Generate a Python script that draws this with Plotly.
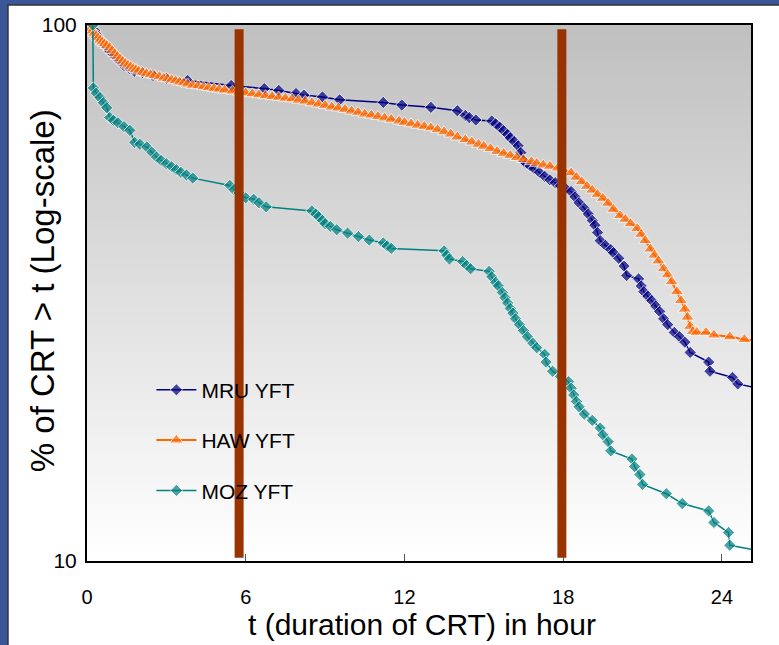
import plotly.graph_objects as go

# ---------------- data ----------------
series_names = ["MRU YFT", "HAW YFT", "MOZ YFT"]

mru_t = [0.2, 0.3, 0.4, 0.55, 0.7, 0.85, 1.0, 1.2, 1.4, 1.6, 1.8, 2.1, 2.5, 3.0, 3.8,
         5.45, 6.7, 7.25, 7.9, 8.2, 8.9, 9.55, 11.2, 11.9, 13.0, 14.0, 14.3, 14.45, 14.7,
         15.3, 15.45, 15.6, 15.75, 15.9, 16.0, 16.15, 16.3, 16.4, 16.5, 16.6, 16.75, 16.9,
         17.1, 17.3, 17.5, 17.7, 17.9, 18.1, 18.3, 18.45, 18.6, 18.8, 18.95, 19.1, 19.2,
         19.3, 19.4, 19.6, 19.8, 19.9, 20.1, 20.3, 20.4, 20.85, 20.95, 21.05, 21.2, 21.35,
         21.5, 21.65, 21.8, 21.95, 22.2, 22.4, 22.6, 22.8, 23.5, 23.55, 24.4, 24.6, 25.4]
mru_v = [100, 97.5, 95.5, 93.5, 91.5, 89.5, 88, 86, 84, 83, 82, 81.5, 80.5, 79.5, 78.8,
         77.1, 76.1, 75.5, 74.5, 74.0, 73.4, 72.5, 71.7, 70.9, 70.2, 69.2, 67.8, 67.2, 66.5,
         66.2, 65.4, 64.5, 63.5, 62.5, 61.6, 60.6, 59.5, 57.8, 55.9, 55.2, 54.6, 54.0,
         53.1, 52.2, 51.4, 50.8, 50.1, 49.5, 48.9, 47.8, 46.6, 45.5, 44.4, 43.2, 42.3,
         41.0, 39.6, 38.8, 38.1, 37.6, 36.7, 35.5, 34.1, 33.6, 32.6, 31.8, 31.2, 30.6,
         29.9, 29.2, 28.3, 27.6, 26.7, 26.2, 25.6, 24.5, 23.5, 22.6, 22.0, 21.4, 21.0]

haw_t = [0.10, 0.15, 0.20, 0.28, 0.35, 0.42, 0.50, 0.58, 0.66, 0.75, 0.86, 0.95, 1.05, 1.15,
         1.25, 1.35, 1.45, 1.55, 1.65, 1.75, 1.85, 1.95, 2.10, 2.25, 2.40, 2.55, 2.74, 2.90,
         3.05, 3.20, 3.35, 3.50, 3.65, 3.80, 4.00, 4.20, 4.40, 4.60, 4.80, 5.00, 5.20, 5.50,
         5.75, 6.00, 6.25, 6.50, 6.75, 7.00, 7.25, 7.50, 7.75, 8.00, 8.25, 8.50, 8.75, 9.00,
         9.25, 9.50, 9.75, 10.00, 10.25, 10.50, 10.75, 11.00, 11.25, 11.50, 11.80, 12.00,
         12.25, 12.50, 12.75, 13.00, 13.25, 13.50, 13.75, 14.00, 14.30, 14.55, 14.80, 15.00,
         15.25, 15.50, 15.75, 16.00, 16.25, 16.50, 16.80, 17.00, 17.25, 17.50, 17.80, 18.00,
         18.30, 18.50, 18.70, 18.90, 19.10, 19.30, 19.50, 19.70, 19.90, 20.15, 20.35, 20.55,
         20.80, 20.95, 21.10, 21.30, 21.45, 21.60, 21.80, 21.95, 22.10, 22.30, 22.45, 22.60,
         22.70, 22.80, 22.90, 23.05, 23.40, 23.70, 24.30, 24.85, 25.40]
haw_v = [100, 98.5, 97.5, 96.5, 95.5, 94.6, 93.8, 93.0, 92.3, 91.6, 90.8, 89.6, 88.5, 87.4,
         86.5, 85.6, 84.8, 84.2, 83.6, 83.0, 82.6, 82.1, 81.6, 81.2, 80.8, 80.5, 80.1, 79.6,
         79.4, 79.0, 78.7, 78.3, 78.0, 77.6, 77.2, 77.0, 76.7, 76.4, 76.1, 75.9, 75.6, 75.3,
         75.0, 74.7, 74.4, 74.1, 73.8, 73.5, 73.3, 73.0, 72.8, 72.4, 72.1, 71.6, 71.2, 70.8,
         70.3, 70.0, 69.6, 69.1, 68.7, 68.2, 67.9, 67.5, 67.1, 66.7, 66.2, 65.8,
         65.4, 65.0, 64.7, 64.3, 63.8, 63.2, 62.6, 61.8, 61.1, 60.5, 59.9, 59.4,
         58.8, 58.1, 57.6, 57.1, 56.6, 56.1, 55.6, 55.2, 54.8, 54.5, 54.1, 53.7,
         53.0, 52.0, 51.0, 50.0, 49.2, 48.3, 47.5, 46.5, 45.3, 44.1, 43.4, 42.6,
         41.7, 40.7, 39.6, 38.2, 37.2, 36.3, 35.1, 34.2, 33.2, 31.8, 30.6, 29.5,
         28.5, 27.4, 26.8, 26.7, 26.7, 26.4, 26.2, 25.9, 25.7]

moz_t = [0.22, 0.24, 0.35, 0.49, 0.62, 0.75, 0.86, 1.0, 1.17, 1.4, 1.62, 1.8, 2.0, 2.26,
         2.45, 2.63, 2.8, 3.0, 3.2, 3.38, 3.55, 3.76, 4.0, 5.4, 5.56, 5.75, 6.0, 6.3, 6.5,
         6.77, 8.5, 8.65, 8.76, 8.9, 9.0, 9.2, 9.44, 9.85, 10.26, 10.67, 11.2, 11.35, 11.5,
         13.5, 13.6, 13.7, 14.2, 14.35, 14.5, 15.2, 15.3, 15.45, 15.55, 15.7, 15.8, 15.9,
         16.0, 16.1, 16.2, 16.35, 16.5, 16.65, 16.85, 17.0, 17.3, 17.35, 17.6, 17.9, 18.2,
         18.3, 18.4, 18.5, 18.6, 18.8, 19.1, 19.4, 19.5, 19.7, 19.8, 20.6, 20.7, 20.9, 21.0,
         21.9, 22.5, 23.5, 23.7, 24.25, 24.3, 25.4]
moz_v = [100, 76.3, 74.6, 73.2, 71.6, 70.1, 67.2, 66.4, 65.7, 64.6, 63.6, 60.4, 59.9, 59.2,
         57.9, 56.7, 55.9, 55.1, 54.4, 53.7, 53.1, 52.5, 51.8, 50.2, 49.3, 48.6, 47.6, 47.3, 46.6,
         45.8, 45.0, 44.4, 43.9, 43.2, 42.6, 42.1, 41.5, 40.9, 40.3, 39.7, 39.2, 38.7, 38.3,
         37.9, 37.2, 36.6, 36.2, 35.6, 35.1, 34.7, 33.9, 33.1, 32.6, 31.7, 31.0, 30.3,
         29.6, 29.0, 28.3, 27.6, 26.9, 26.2, 25.5, 25.0, 24.3, 23.5, 22.6, 22.1, 21.6,
         21.0, 20.4, 19.85, 19.4, 18.8, 18.3, 17.7, 17.2, 16.7, 16.05, 15.5, 15.0, 14.5, 13.9,
         13.35, 12.8, 12.4, 11.8, 11.3, 10.7, 10.45]

x_tick_values = [0, 6, 12, 18, 24]
x_tick_labels = ["0", "6", "12", "18", "24"]
y_tick_values = [10, 100]
y_tick_labels = ["10", "100"]
reference_hours = [5.75, 17.95]
x_title = "t (duration of CRT) in hour"
y_title = "% of CRT > t (Log-scale)"

# ---------------- styling ----------------
FONT = "Liberation Sans, Arial, Helvetica, sans-serif"
NAVY = "#000080"
ORANGE = "#FF6600"
TEAL = "#008080"
BROWN = "#993300"

def msize(n, s):
    return [s] * (n - 1) + [0]

fig = go.Figure()
fig.add_trace(go.Scatter(
    x=mru_t, y=mru_v, name=series_names[0], mode="lines+markers", legendgroup="a",
    line=dict(color=NAVY, width=1.5),
    marker=dict(symbol="diamond", size=msize(len(mru_t), 9.5), color=NAVY)))
fig.add_trace(go.Scatter(
    x=haw_t, y=haw_v, name=series_names[1], mode="lines+markers", legendgroup="b",
    line=dict(color=ORANGE, width=2),
    marker=dict(symbol="triangle-up", size=msize(len(haw_t), 12), color=ORANGE)))
fig.add_trace(go.Scatter(
    x=moz_t, y=moz_v, name=series_names[2], mode="lines+markers", legendgroup="c",
    line=dict(color=TEAL, width=1.5),
    marker=dict(symbol="diamond", size=msize(len(moz_t), 9.5), color=TEAL)))

shapes = []
# white slide panel
shapes.append(dict(type="rect", xref="paper", yref="paper", layer="below",
                   x0=-0.119, x1=1.2, y0=-0.3, y1=1.0373,
                   fillcolor="white", line=dict(color="#333333", width=1.5)))
# vertical grey gradient for the plot area
nb = 64
for i in range(nb):
    frac = (i + 0.5) / nb
    g = int(round(255 - 63 * frac))
    shapes.append(dict(type="rect", xref="paper", yref="paper", layer="below",
                       x0=0, x1=1, y0=i / nb, y1=(i + 1) / nb + 0.002,
                       fillcolor=f"rgb({g},{g},{g})", line=dict(width=0)))
# brown reference bars
for h in reference_hours:
    shapes.append(dict(type="rect", xref="x", yref="paper", layer="above",
                       x0=h - 0.17, x1=h + 0.17, y0=0.006, y1=0.992,
                       fillcolor=BROWN, line=dict(width=0)))

fig.update_layout(
    width=779, height=645,
    margin=dict(l=87, r=28, t=25, b=84),
    paper_bgcolor="#3A5598",
    plot_bgcolor="rgba(0,0,0,0)",
    font=dict(family=FONT, color="black", size=20),
    shapes=shapes,
    showlegend=True,
    legend=dict(x=0.097, y=0.357, xanchor="left", yanchor="top",
                bgcolor="rgba(0,0,0,0)", font=dict(size=21, family=FONT),
                tracegroupgap=20, itemwidth=40),
    xaxis=dict(range=[0, 25.1], tickvals=x_tick_values, ticktext=x_tick_labels,
               ticks="inside", ticklen=7, tickcolor="#555555", tickwidth=1,
               showline=True, linecolor="black", linewidth=1.5, mirror=True,
               showgrid=False, zeroline=False, ticklabelstandoff=17,
               tickfont=dict(size=20), automargin=False),
    yaxis=dict(type="log", range=[1, 2], tickvals=y_tick_values, ticktext=y_tick_labels,
               ticks="", showline=True, linecolor="black", linewidth=2, mirror=True,
               showgrid=False, zeroline=False, tickfont=dict(size=21),
               ticklabelstandoff=4, automargin=False),
    annotations=[
        dict(text=y_title, xref="paper", yref="paper", x=-0.068, y=0.505,
             xanchor="center", yanchor="middle", textangle=-90,
             showarrow=False, font=dict(size=33, family=FONT)),
        dict(text=x_title, xref="paper", yref="paper", x=0.505, y=-0.118,
             xanchor="center", yanchor="middle",
             showarrow=False, font=dict(size=30, family=FONT)),
    ],
)

fig.write_html("out.html", config={"displayModeBar": False},
               post_script="document.body.style.margin='0px';")
